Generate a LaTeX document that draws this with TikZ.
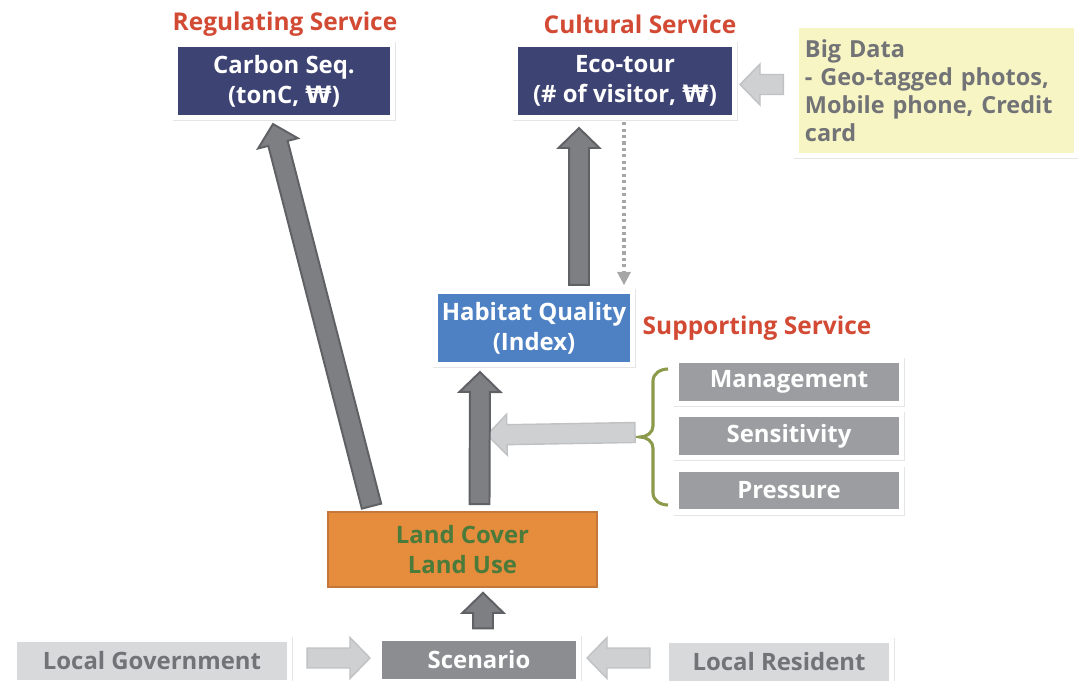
\documentclass[tikz,border=0pt]{standalone}
\usepackage{fontspec}
\setmainfont{Open Sans}
\newfontfamily\wonfont{DejaVu Sans}
\usetikzlibrary{calc}
\definecolor{sred}{HTML}{D24A34}
\definecolor{snavy}{HTML}{3D4373}
\definecolor{sblue}{HTML}{4E81C3}
\definecolor{sgrey}{HTML}{9B9DA0}
\definecolor{sdark}{HTML}{8C8D91}
\definecolor{slight}{HTML}{D8D9DB}
\definecolor{stext}{HTML}{727376}
\definecolor{syellow}{HTML}{F8F5C5}
\definecolor{sorange}{HTML}{E58C3D}
\definecolor{sorline}{HTML}{C4773A}
\definecolor{sgreen}{HTML}{4B7B3B}
\definecolor{arrfill}{HTML}{7E7F83}
\definecolor{arrline}{HTML}{606165}
\definecolor{lightfill}{HTML}{CFD0D2}
\definecolor{lightline}{HTML}{C0C1C3}
\definecolor{solive}{HTML}{8C9A4C}

% fat block arrow: [style]{from}{to}
\newcommand{\fatarrow}[3][darr]{%
  \coordinate (fa-s) at (#2);
  \coordinate (fa-e) at (#3);
  \coordinate (fa-h) at ($(fa-e)!14.2pt!(fa-s)$);
  \draw[#1] ($(fa-s)!7.1pt!90:(fa-e)$) -- ($(fa-h)!7.1pt!90:(fa-e)$)
    -- ($(fa-h)!14.6pt!90:(fa-e)$) -- (fa-e) -- ($(fa-h)!14.6pt!-90:(fa-e)$)
    -- ($(fa-h)!7.1pt!-90:(fa-e)$) -- ($(fa-s)!7.1pt!-90:(fa-e)$) -- cycle;}
\newcommand{\won}{{\wonfont\bfseries ₩}}

\begin{document}
\begin{tikzpicture}[x=0.025cm, y=-0.025cm,
  framed/.style={draw=white, line width=3.6pt, align=center, font=\bfseries,
    preaction={draw=black!10, line width=4.2pt, transform canvas={xshift=.5pt,yshift=-.6pt}}},
  boxtext/.style={font=\fontsize{17}{21.3}\selectfont\bfseries, text=white},
  greytext/.style={font=\fontsize{17}{20}\selectfont\bfseries, text=stext},
  title/.style={font=\fontsize{17.4}{20}\selectfont\bfseries, text=sred},
  darr/.style={fill=arrfill, draw=arrline, line width=1.4pt, line join=miter},
  larr/.style={fill=lightfill, draw=lightline, line width=1pt, line join=miter}]
  \useasboundingbox (0,0) rectangle (1078,681);

  % titles
  \node[title] (regt) at (285,24) {Regulating Service};
  \node[title] (cult) at (640,24) {Cultural Service};
  \node[title] (supt) at (757,328) {Supporting Service};

  % service boxes
  \node[framed, boxtext, fill=snavy, minimum width=5.425cm, minimum height=1.825cm]
    (carbon) at (284,81) {Carbon Seq.\\(tonC, \won)};
  \node[framed, boxtext, fill=snavy, minimum width=5.475cm, minimum height=1.825cm]
    (eco) at (625,81) {Eco-tour\\(\# of visitor, \won)};
  \node[framed, fill=syellow, minimum width=7.0cm, minimum height=3.25cm, align=left,
    text width=6.55cm, font=\fontsize{16.7}{20}\selectfont\bfseries, text=stext]
    (bigdata) at (936,90.5) {Big Data\\- Geo-tagged photos,\\Mobile phone, Credit\\card};
  \node[framed, boxtext, fill=sblue, minimum width=4.925cm, minimum height=1.825cm]
    (habitat) at (534,328) {Habitat Quality\\(Index)};

  % factors
  \foreach \nm/\y/\txt in {mgmt/382/Management, sens/436/Sensitivity, press/490.5/Pressure}
    \node[framed, boxtext, fill=sgrey, minimum width=5.625cm, minimum height=1.075cm]
      (\nm) at (789,\y) {\txt};

  % land cover and scenario
  \node[draw=sorline, line width=1.2pt, fill=sorange, minimum width=6.725cm, minimum height=1.875cm,
    align=center, font=\fontsize{17}{21.3}\selectfont\bfseries, text=sgreen]
    (land) at (462.5,549.5) {Land Cover\\Land Use};
  \node[framed, boxtext, fill=sdark, minimum width=4.975cm, minimum height=1.075cm]
    (scenario) at (479,660) {Scenario};
  \node[framed, greytext, fill=slight, minimum width=6.875cm, minimum height=1.075cm]
    (gov) at (152,661) {Local Government};
  \node[framed, greytext, fill=slight, minimum width=5.625cm, minimum height=1.075cm]
    (resident) at (779,662) {Local Resident};

  % bracket
  \coordinate (brk) at (640,437);
  \draw[solive, line width=2.2pt] (668,369) to[out=180,in=90] (653,381) -- (653,426)
    to[out=-90,in=0] (brk) to[out=0,in=90] (653,448) -- (653,493) to[out=-90,in=180] (668,505);

  % light arrows
  \fatarrow[larr]{$(bigdata.west)+(-10,-6)$}{$(eco.east)+(3,3.5)$}
  \fatarrow[larr]{$(brk)+(-5,-4.5)$}{$(habitat.south)+(-47,68)$}
  \fatarrow[larr]{$(gov.east)+(15,-3)$}{$(scenario.west)+(-7,-2)$}
  \fatarrow[larr]{$(resident.west)+(-14,-4)$}{$(scenario.east)+(6,-2)$}

  % dark arrows
  \fatarrow{$(land.north)+(-91,-5)$}{$(carbon.south)+(-11,4)$}
  \fatarrow{$(land.north)+(17,-7)$}{$(habitat.south)+(-54,5)$}
  \fatarrow{$(habitat.north)+(45,-4)$}{$(eco.south)+(-46,8)$}
  \fatarrow{$(scenario.north)+(4,-7.5)$}{$(land.south)+(20.5,5)$}

  % dotted link
  \draw[draw=black!35, line width=2.2pt, dash pattern=on 2.2pt off 2.4pt]
    ($(eco.south)+(-1,2)$) -- ($(habitat.north)+(90,-14)$);
  \fill[black!35] ($(habitat.north)+(83,-17)$) -- ($(habitat.north)+(97,-17)$)
    -- ($(habitat.north)+(90,-4)$) -- cycle;
\end{tikzpicture}
\end{document}
